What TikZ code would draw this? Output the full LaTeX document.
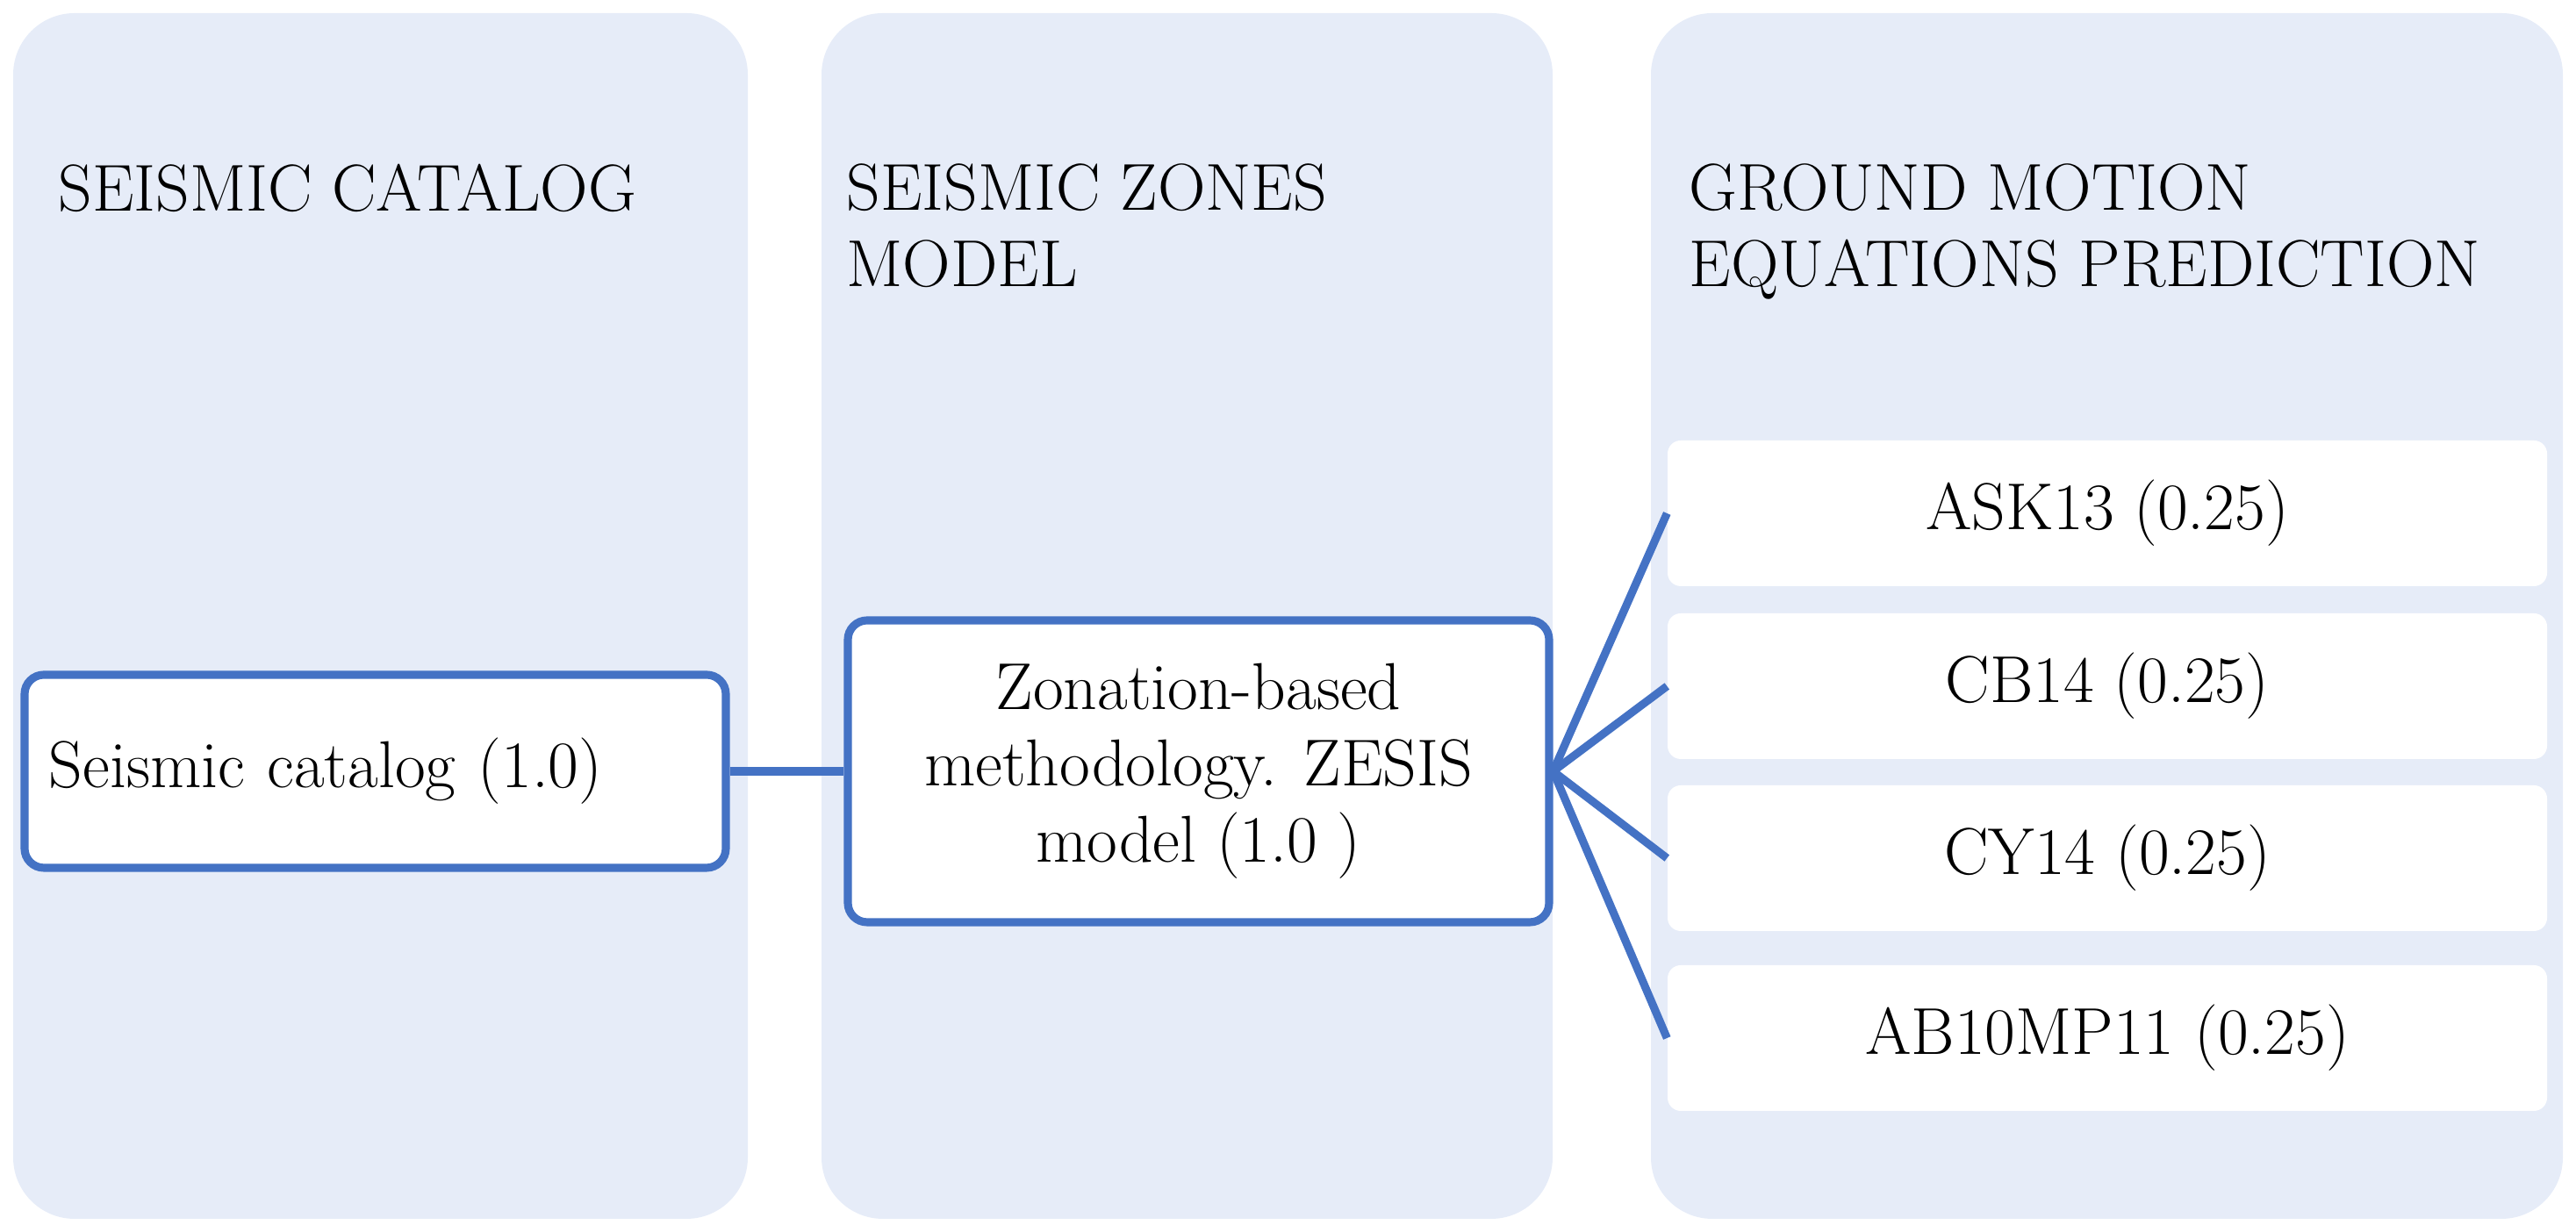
\documentclass[tikz,border=0pt]{standalone}
\usetikzlibrary{positioning}
\definecolor{panelblue}{RGB}{230,236,248}
\definecolor{lineblue}{RGB}{68,114,196}
\tikzset{
  panel/.style={fill=panelblue, rounded corners=0.7cm, minimum height=13.74cm, inner sep=0pt},
  heading/.style={anchor=north west, inner sep=0pt, align=left, font=\fontsize{21.5}{24.7}\selectfont},
  mainbox/.style={draw=lineblue, line width=2.6pt, fill=white, rounded corners=0.22cm, font=\fontsize{21.5}{24.7}\selectfont},
  gmpe/.style={fill=white, rounded corners=0.15cm, minimum width=10.02cm, minimum height=1.66cm, font=\fontsize{21.5}{24.7}\selectfont},
  link/.style={draw=lineblue, line width=2.6pt}
}
\begin{document}
\begin{tikzpicture}
            \useasboundingbox (0,0) rectangle (29.35,14.04);

            \node[panel, minimum width=8.37cm] (col_1) at (4.335,7.02) {};
            \node[panel, minimum width=8.33cm] (col_2) at (13.525,7.02) {};
            \node[panel, minimum width=10.39cm] (col_3) at (24.005,7.02) {};

            \node[heading] (head_1) at (0.66,12.18) {SEISMIC CATALOG};
            \node[heading] (head_2) at (9.64,12.18) {SEISMIC ZONES\\MODEL};
            \node[heading] (head_3) at (19.24,12.18) {GROUND MOTION\\EQUATIONS PREDICTION};

            \node[mainbox, text width=7.43cm, inner xsep=0.28cm, align=left, minimum height=2.2cm] (cat) at (4.275,5.25) {Seismic catalog (1.0)};
            \node[mainbox, minimum width=7.99cm, minimum height=3.44cm, align=center] (zon) at (13.655,5.25) {Zonation-based\\methodology. ZESIS\\model (1.0 )};

            \node[gmpe] (g_1) at (24.01,8.19) {ASK13 (0.25)};
            \node[gmpe] (g_2) at (24.01,6.22) {CB14 (0.25)};
            \node[gmpe] (g_3) at (24.01,4.26) {CY14 (0.25)};
            \node[gmpe] (g_4) at (24.01,2.21) {AB10MP11 (0.25)};

            \draw[link] (cat.east) -- (zon.west);

            \draw[link] (zon.east) -- (g_1.west);
            \draw[link] (zon.east) -- (g_2.west);
            \draw[link] (zon.east) -- (g_3.west);
            \draw[link] (zon.east) -- (g_4.west);
        \end{tikzpicture}
\end{document}
